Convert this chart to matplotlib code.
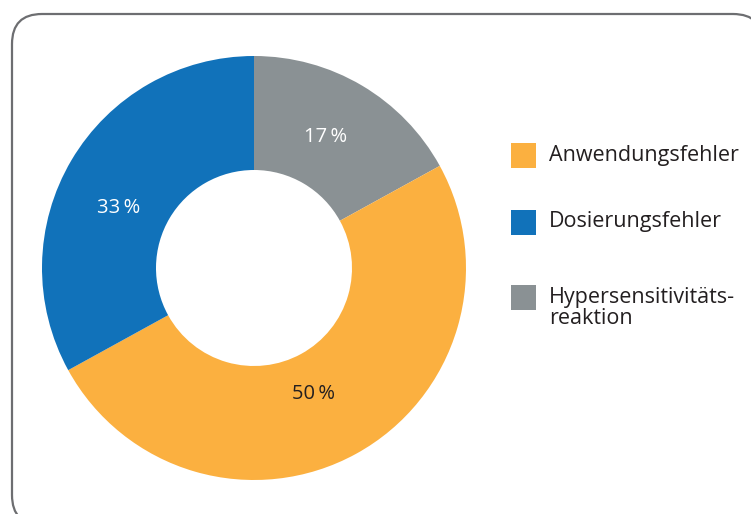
import matplotlib
matplotlib.use("Agg")
import numpy as np
import matplotlib.pyplot as plt
from matplotlib.patches import FancyBboxPatch, Rectangle

# Data
categories = ["Anwendungsfehler", "Dosierungsfehler", "Hypersensitivitäts-\nreaktion"]
shares = [50, 33, 17]
colors = ["#FBB040", "#1172BA", "#8A9194"]
pct_labels = ["50\u2009%", "33\u2009%", "17\u2009%"]
pct_colors = ["#231F20", "white", "white"]

plt.rcParams["font.family"] = ["Open Sans", "DejaVu Sans"]

W, H = 751, 514
fig = plt.figure(figsize=(W / 100, H / 100), dpi=100)

# Background canvas in pixel coordinates (y downward)
bg = fig.add_axes([0, 0, 1, 1])
bg.set_xlim(0, W)
bg.set_ylim(H, 0)
bg.axis("off")

frame = FancyBboxPatch((12, 14), 751, 511, boxstyle="round,pad=0,rounding_size=30",
                       facecolor="white", edgecolor="#6D6E71", linewidth=1.6)
bg.add_patch(frame)

# Donut chart
cx, cy, R, r_in = 254, 268, 212, 98
pie_ax = fig.add_axes([(cx - R) / W, (H - cy - R) / H, 2 * R / W, 2 * R / H])
pie_ax.axis("off")

# clockwise from 12 o'clock: gray, orange, blue
order = [2, 0, 1]
wedges, _ = pie_ax.pie([shares[i] for i in order], colors=[colors[i] for i in order],
                       startangle=90, counterclock=False, radius=1,
                       wedgeprops=dict(width=(R - r_in) / R, linewidth=0))
pie_ax.set_xlim(-1, 1)
pie_ax.set_ylim(-1, 1)
pie_ax.set_aspect("equal")

# label placement: angular nudge (deg) and radial distance per wedge
nudge = {2: 1.8, 0: -3.5, 1: 6.6}
dist = {2: 0.705, 0: 0.66, 1: 0.70}
for w, i in zip(wedges, order):
    ang = np.deg2rad((w.theta1 + w.theta2) / 2 + nudge[i])
    pie_ax.text(dist[i] * np.cos(ang), dist[i] * np.sin(ang), pct_labels[i],
                ha="center", va="center", fontsize=14.5, color=pct_colors[i])

# Legend
leg_y = [155, 222, 297]
for cat, col, y in zip(categories, colors, leg_y):
    bg.add_patch(Rectangle((511, y - 12.5), 25, 25, facecolor=col, edgecolor="none"))
    n = cat.count("\n")
    bg.text(549, y + n * 11, cat, ha="left", va="center", fontsize=15.5,
            color="#231F20", linespacing=0.95)

fig.savefig("out.png", dpi=100)
